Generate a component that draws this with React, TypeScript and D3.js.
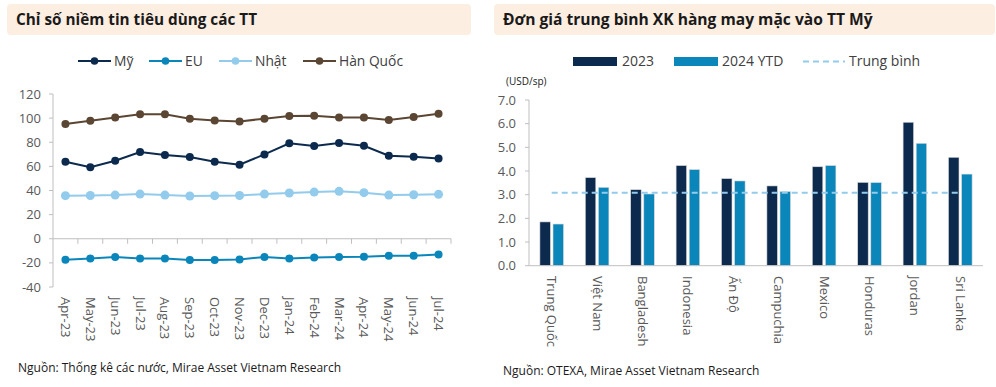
import React from "react";
import * as d3 from "d3";

const months = ["Apr-23","May-23","Jun-23","Jul-23","Aug-23","Sep-23","Oct-23","Nov-23","Dec-23","Jan-24","Feb-24","Mar-24","Apr-24","May-24","Jun-24","Jul-24"];
const my = [63.9,59.2,64.7,71.9,69.4,67.7,63.9,61.4,69.9,79.1,76.9,79.3,77.1,68.8,68.0,66.6];
const eu = [-17.4,-16.3,-15.2,-16.3,-16.3,-17.7,-17.7,-17.1,-15.2,-16.3,-15.5,-15.2,-14.9,-14.1,-14.1,-13.0];
const nhat = [35.7,35.9,36.2,37.0,36.2,35.4,35.7,35.9,37.0,37.9,38.7,39.3,38.2,36.2,36.5,36.8];
const hanQuoc = [95.1,97.9,100.6,103.2,103.2,99.5,98.1,97.3,99.5,101.7,102.0,100.6,100.6,98.4,100.9,103.6];
const leftTicks = [120,100,80,60,40,20,0,-20,-40];

const countries = ["Trung Quốc","Việt Nam","Bangladesh","Indonesia","Ấn Độ","Campuchia","Mexico","Honduras","Jordan","Sri Lanka"];
const v2023 = [1.85,3.72,3.21,4.23,3.68,3.37,4.18,3.52,6.06,4.58];
const v2024 = [1.76,3.31,3.03,4.06,3.58,3.13,4.23,3.51,5.17,3.87];
const average = 3.08;
const rightTicks = [0,1,2,3,4,5,6,7];

const C_MY = "#0c2a4d";
const C_EU = "#0a86bb";
const C_NHAT = "#92cbeb";
const C_HQ = "#5b4633";
const AXIS = "#bfbfbf";
const TICK = "#595959";
const FONT = "'Open Sans', 'Noto Sans', sans-serif";

function LeftChart() {
  const x = d3.scaleBand<string>().domain(months).range([53, 451]);
  const y = d3.scaleLinear().domain([-40, 120]).range([287, 94]);
  const series = [
    { name: "Mỹ", data: my, color: C_MY, r: 4 },
    { name: "EU", data: eu, color: C_EU, r: 4 },
    { name: "Nhật", data: nhat, color: C_NHAT, r: 4.5 },
    { name: "Hàn Quốc", data: hanQuoc, color: C_HQ, r: 4 },
  ];
  const cx = (m: string) => (x(m) as number) + x.bandwidth() / 2;
  const legendX = [78, 149, 219, 303];
  return (
    <g>
      <rect x={7} y={4} width={464} height={31} rx={4} fill="#fdeee2" />
      <text x={16} y={25} fontSize={15.3} fontWeight="bold" fill="#1a1a1a">Chỉ số niềm tin tiêu dùng các TT</text>
      {series.map((s, i) => (
        <g key={s.name}>
          <line x1={legendX[i]} x2={legendX[i] + 33} y1={61} y2={61} stroke={s.color} strokeWidth={2} />
          <circle cx={legendX[i] + 16.5} cy={61} r={3.8} fill={s.color} />
          <text x={legendX[i] + 36} y={66} fontSize={13.8} fill="#404040">{s.name}</text>
        </g>
      ))}
      <line x1={53} x2={53} y1={94} y2={287} stroke={AXIS} />
      {leftTicks.map((t) => (
        <g key={t}>
          <line x1={49} x2={53} y1={y(t)} y2={y(t)} stroke={AXIS} />
          <text x={41} y={y(t) + 4.5} fontSize={13} textAnchor="end" fill={TICK}>{t}</text>
        </g>
      ))}
      <line x1={53} x2={451} y1={y(0)} y2={y(0)} stroke={AXIS} />
      {months.map((m) => (
        <line key={m} x1={(x(m) as number) + x.bandwidth()} x2={(x(m) as number) + x.bandwidth()} y1={y(0)} y2={y(0) + 5} stroke={AXIS} />
      ))}
      {series.map((s) => {
        const line = d3.line<number>().x((_, i) => cx(months[i])).y((d) => y(d));
        return (
          <g key={s.name}>
            <path d={line(s.data) || ""} fill="none" stroke={s.color} strokeWidth={2} />
            {s.data.map((d, i) => (
              <circle key={i} cx={cx(months[i])} cy={y(d)} r={s.r} fill={s.color} />
            ))}
          </g>
        );
      })}
      {months.map((m) => (
        <text key={m} transform={`translate(${cx(m) - 4.5},297) rotate(90)`} fontSize={13} fill={TICK}>{m}</text>
      ))}
      <text x={18} y={372} fontSize={12} fill="#1a1a1a">Nguồn: Thống kê các nước, Mirae Asset Vietnam Research</text>
    </g>
  );
}

function RightChart() {
  const x = d3.scaleBand<string>().domain(countries).range([529, 983]);
  const y = d3.scaleLinear().domain([0, 7]).range([265.7, 100]);
  const bw = 10.5;
  const cx = (c: string) => (x(c) as number) + x.bandwidth() / 2;
  return (
    <g>
      <rect x={494} y={4} width={501} height={31} rx={4} fill="#fdeee2" />
      <text x={503} y={25} fontSize={15.6} fontWeight="bold" fill="#1a1a1a">Đơn giá trung bình XK hàng may mặc vào TT Mỹ</text>
      <rect x={573} y={57} width={44} height={9} fill={C_MY} />
      <text x={622} y={66} fontSize={14} fill="#404040">2023</text>
      <rect x={674} y={57} width={44} height={9} fill={C_EU} />
      <text x={722} y={66} fontSize={14} fill="#404040">2024 YTD</text>
      <line x1={803} x2={845} y1={61.5} y2={61.5} stroke={C_NHAT} strokeWidth={2} strokeDasharray="6 4" />
      <text x={849} y={66} fontSize={14} fill="#404040">Trung bình</text>
      <text x={506} y={85} fontSize={10} fill="#1a1a1a">(USD/sp)</text>
      <line x1={529} x2={529} y1={100} y2={265.7} stroke={AXIS} />
      {rightTicks.map((t) => (
        <g key={t}>
          <line x1={525} x2={529} y1={y(t)} y2={y(t)} stroke={AXIS} />
          <text x={516} y={y(t) + 4.5} fontSize={13} textAnchor="end" fill={TICK}>{t.toFixed(1)}</text>
        </g>
      ))}
      {countries.map((c, i) => (
        <g key={c}>
          <rect x={cx(c) - bw - 1.3} y={y(v2023[i])} width={bw} height={y(0) - y(v2023[i])} fill={C_MY} stroke="#d9d9d9" strokeWidth={0.6} />
          <rect x={cx(c) + 1.3} y={y(v2024[i])} width={bw} height={y(0) - y(v2024[i])} fill={C_EU} stroke="#d9d9d9" strokeWidth={0.6} />
        </g>
      ))}
      <line x1={529} x2={983} y1={y(0)} y2={y(0)} stroke={AXIS} />
      <line x1={cx(countries[0])} x2={cx(countries[countries.length - 1])} y1={y(average)} y2={y(average)} stroke={C_NHAT} strokeWidth={2} strokeDasharray="6 4" />
      {countries.map((c) => (
        <text key={c} transform={`translate(${cx(c) - 4.5},276) rotate(90)`} fontSize={13} fill={TICK}>{c}</text>
      ))}
      <text x={503} y={375} fontSize={12} fill="#1a1a1a">Nguồn: OTEXA, Mirae Asset Vietnam Research</text>
    </g>
  );
}

export default function App() {
  return (
    <svg width={996} height={387} style={{ position: "absolute", left: 0, top: 0, fontFamily: FONT }}>
      <rect width={996} height={387} fill="#ffffff" />
      <LeftChart />
      <RightChart />
    </svg>
  );
}
